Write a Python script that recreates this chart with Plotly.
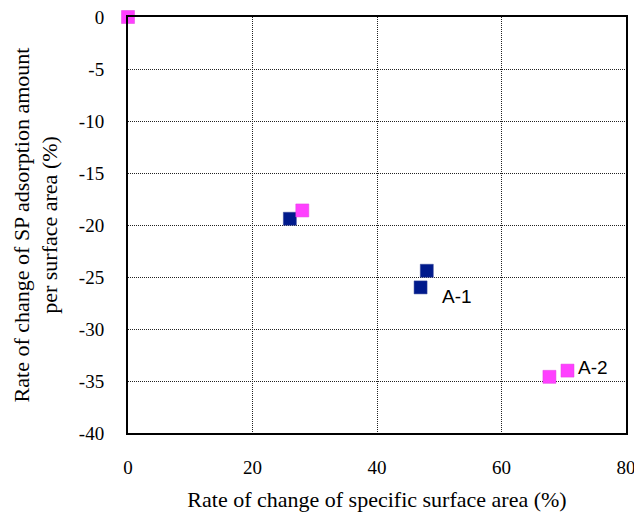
import plotly.graph_objects as go

a1_x = [26.0, 48.0, 47.0]
a1_y = [-19.4, -24.4, -26.0]
a2_x = [0.0, 28.0, 70.6, 67.7]
a2_y = [0.0, -18.6, -34.0, -34.6]
labels = [("A-1", 50.1, -26.9), ("A-2", 72.0, -33.7)]
x_ticks = [0, 20, 40, 60, 80]
y_ticks = [0, -5, -10, -15, -20, -25, -30, -35, -40]
x_ticktext = [str(v) for v in x_ticks]
y_ticktext = [str(v) for v in y_ticks]

SERIF = "Liberation Serif"
SANS = "Liberation Sans"

fig = go.Figure()
fig.add_trace(go.Scatter(x=a1_x, y=a1_y, mode="markers", cliponaxis=False,
                         marker=dict(symbol="square", size=13, color="#001a8c",
                                     line=dict(width=0.5, color="#334499"))))
fig.add_trace(go.Scatter(x=a2_x, y=a2_y, mode="markers", cliponaxis=False,
                         marker=dict(symbol="square", size=13, color="#ff40ff",
                                     line=dict(width=0.5, color="#e040e0"))))
for t, x, y in labels:
    fig.add_annotation(x=x, y=y, text=t, showarrow=False, xanchor="left",
                       font=dict(family=SANS, size=19, color="black"))

axis_common = dict(showgrid=True, gridcolor="#222222", griddash="1px,1px", gridwidth=1,
                   showline=True, linecolor="black", linewidth=2, mirror=True,
                   zeroline=False, ticks="outside", tickcolor="rgba(0,0,0,0)",
                   automargin=False, ticklabeloverflow="allow",
                   tickfont=dict(family=SERIF, size=19, color="black"))
fig.update_xaxes(range=[0, 80], tickvals=x_ticks, ticktext=x_ticktext, ticklen=16,
                 **axis_common,
                 title=dict(text="Rate of change of specific surface area (%)",
                            font=dict(family=SERIF, size=22, color="black")))
fig.update_yaxes(range=[-40, 0], tickvals=y_ticks, ticktext=y_ticktext, ticklen=18,
                 **axis_common,
                 title=dict(text="Rate of change of SP adsorption amount<br>per surface area (%)",
                            font=dict(family=SERIF, size=22, color="black")))
fig.update_layout(width=634, height=518, showlegend=False,
                  font=dict(family=SERIF, color="black"),
                  plot_bgcolor="white", paper_bgcolor="white",
                  margin=dict(l=128, r=8, t=17, b=85, autoexpand=False))

post = (
    "document.body.style.margin='0';document.body.style.overflow='hidden';"
    "document.querySelectorAll('.xtick text, .ytick text, .g-xtitle text, .g-ytitle text, .xtitle, .ytitle')"
    ".forEach(function(e){e.style.fontFamily='\"Liberation Serif\", \"Times New Roman\", serif';});"
)
fig.write_html("out.html", config={"displayModeBar": False}, post_script=post)
